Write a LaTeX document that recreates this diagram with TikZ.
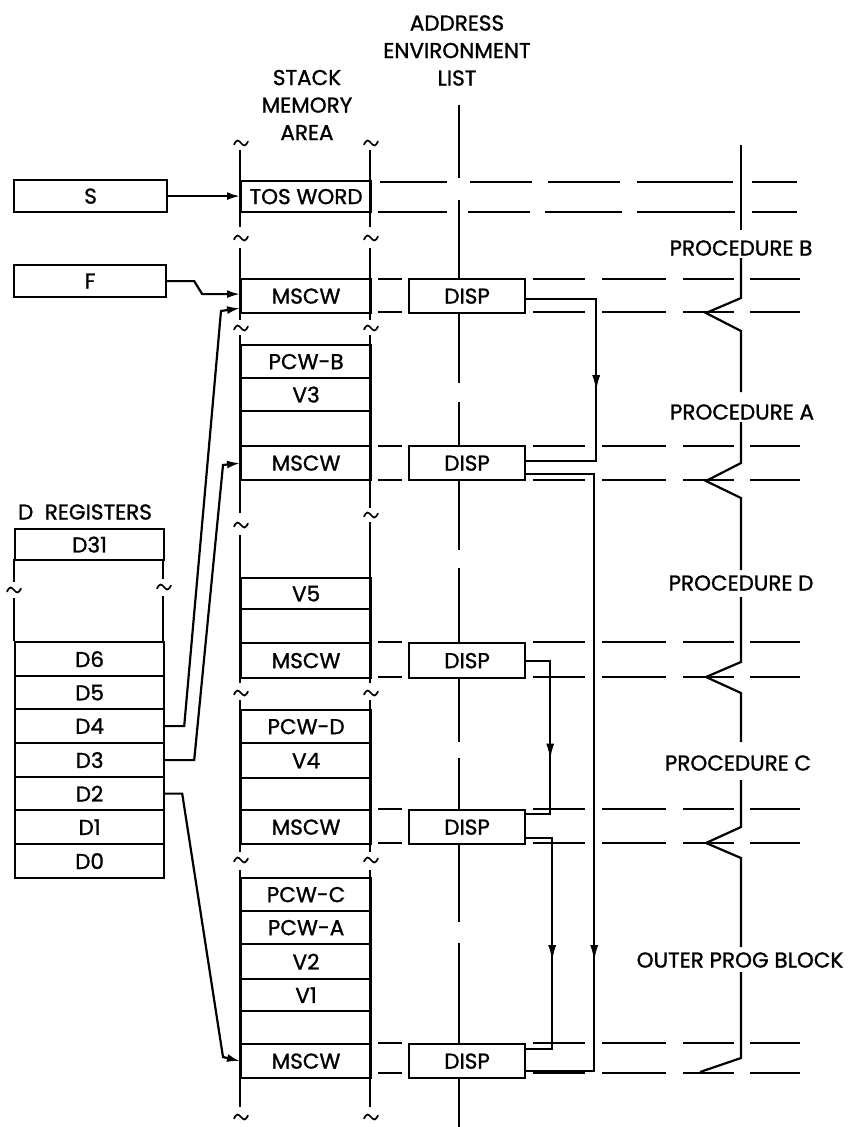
\documentclass[tikz,border=0pt]{standalone}
\usepackage{fontspec}
\setmainfont{Poppins}[FakeBold=1.2]
\usetikzlibrary{arrows.meta,decorations.markings}
\tikzset{
  tld/.pic={\draw[line width=1.7pt,line cap=round] (-7,1.5) sin (-3.5,-2.5) cos (0,0) sin (3.5,2.5) cos (7,-1.5);},
}
\newcommand\srow[4]{\node[cell, minimum height=#3] (#1) at (240,#2) {#4};}
\newcommand\drow[4]{\node[reg, minimum height=#3] (#1) at (14,#2) {#4};}
\newcommand\hpair[2]{%
  \draw[hd] (378,#1) -- (402,#1); \draw[hdd] (533,#1) -- (800,#1);
  \draw[hd] (378,#2) -- (402,#2); \draw[hdd] (533,#2) -- (800,#2);}
\begin{document}
\begin{tikzpicture}[x=1pt,y=-1pt,line width=2.2pt,
  every node/.style={font=\fontsize{21.5}{27.5}\selectfont, inner sep=0pt},
  cell/.style={draw, minimum width=130pt, anchor=north west},
  reg/.style={draw, minimum width=149pt, anchor=north west},
  disp/.style={draw, minimum width=116pt, anchor=north west},
  tipped/.style={-{Latex[length=13pt,width=8pt]}},
  midarrow/.style={postaction={decorate},decoration={markings,mark=at position #1 with {\arrow{Latex[length=16pt,width=8pt]}}}},
  hd/.style={line width=2pt},
  hdd/.style={line width=2pt, dash pattern=on 52pt off 17pt on 64pt off 17pt on 51pt off 16pt on 50pt off 50pt},
]
\useasboundingbox (0,0) rectangle (853,1127);

% headers
\node[align=center] (hstack) at (307,105) {STACK\\MEMORY\\AREA};
\node[align=center] (haddr) at (457,50.5) {ADDRESS\\ENVIRONMENT\\LIST};
\node (hdreg) at (85,512) {D~~REGISTERS};

% S and F registers
\node[draw, minimum width=153pt, minimum height=32pt, anchor=north west] (S) at (13,179) {S};
\node[draw, minimum width=152pt, minimum height=32pt, anchor=north west] (F) at (13,264) {F};

% stack rows
\srow{tos}{180}{31pt}{TOS WORD}
\srow{m1}{278}{34pt}{MSCW}
\srow{pcwb}{344}{33pt}{PCW-B}
\srow{v3}{377}{33pt}{V3}
\srow{e1}{410}{35pt}{}
\srow{m2}{445}{34pt}{MSCW}
\srow{v5}{577}{31pt}{V5}
\srow{e2}{608}{34pt}{}
\srow{m3}{642}{35pt}{MSCW}
\srow{pcwd}{709}{33pt}{PCW-D}
\srow{v4}{742}{35pt}{V4}
\srow{e3}{777}{32pt}{}
\srow{m4}{809}{34pt}{MSCW}
\srow{pcwc}{877}{33pt}{PCW-C}
\srow{pcwa}{910}{33pt}{PCW-A}
\srow{v2}{943}{35pt}{V2}
\srow{v1}{978}{32pt}{V1}
\srow{e4}{1010}{33pt}{}
\srow{m5}{1043}{34pt}{MSCW}

% stack walls
\foreach \a/\b in {150/227,248/320,335/513,535/683,700/852,870/1107} \draw (240,\a) -- (240,\b);
\foreach \a/\b in {150/227,248/320,335/508,522/683,700/852,870/1107} \draw (370,\a) -- (370,\b);
\foreach \y in {143,238,328,525,693,860,1117} \pic at (241,\y) {tld};
\foreach \y in {143,238,328,515,693,860,1117} \pic at (371,\y) {tld};

% D registers
\drow{d31}{528}{31pt}{D31}
\drow{d6}{641}{34pt}{D6}
\drow{d5}{675}{33pt}{D5}
\drow{d4}{708}{34pt}{D4}
\drow{d3}{742}{34pt}{D3}
\drow{d2}{776}{33pt}{D2}
\drow{d1}{809}{34pt}{D1}
\drow{d0}{843}{34pt}{D0}
\draw (14,559) -- (14,582); \draw (14,598) -- (14,641);
\draw (163,559) -- (163,579); \draw (163,596) -- (163,641);
\pic at (14,590) {tld};
\pic at (164,587) {tld};

% address environment list
\node[disp, minimum height=34pt] (p1) at (408,278) {DISP};
\node[disp, minimum height=34pt] (p2) at (408,445) {DISP};
\node[disp, minimum height=35pt] (p3) at (408,642) {DISP};
\node[disp, minimum height=34pt] (p4) at (408,809) {DISP};
\node[disp, minimum height=34pt] (p5) at (408,1043) {DISP};
\foreach \a/\b in {105/178,200/278,312/383,402/445,479/550,568/642,677/742,758/809,843/922,943/1043,1077/1127}
  \draw (459,\a) -- (459,\b);

% horizontal dashed boundaries
\draw[hd, dash pattern=on 67pt off 23pt on 62pt off 16pt on 72pt off 17pt on 96pt off 19pt on 45pt off 50pt] (380,182) -- (800,182);
\draw[hd, dash pattern=on 69pt off 21pt on 62pt off 15pt on 77pt off 15pt on 98pt off 17pt on 45pt off 50pt] (378,212) -- (800,212);
\hpair{279}{312}
\hpair{446}{480}
\hpair{642}{677}
\hpair{809}{843}
\hpair{1043}{1073}

% procedure braces
\draw (741,145) -- (741,230);
\draw (741,258) -- (741,298) -- (706,313) -- (741,331) -- (741,392);
\draw (741,422) -- (741,463) -- (706,481) -- (741,498) -- (741,570);
\draw (741,597) -- (741,662) -- (706,677) -- (741,693) -- (741,742);
\draw (741,780) -- (741,827) -- (706,843) -- (741,858) -- (741,947);
\draw (741,972) -- (741,1058) -- (700,1072);
\node[fill=white, inner sep=1pt] (lb) at (741,248) {PROCEDURE B};
\node[fill=white, inner sep=1pt] (la) at (742,412) {PROCEDURE A};
\node[fill=white, inner sep=1pt] (ld) at (741,583) {PROCEDURE D};
\node[fill=white, inner sep=1pt] (lc) at (738,763) {PROCEDURE C};
\node[fill=white, inner sep=1pt] (lo) at (740,960) {OUTER PROG BLOCK};

% register pointers
\draw[tipped] (S.east) -- (S.east -| tos.west);
\draw[tipped] (F.east) -- ++(27,0) -- ++(8,13) -- ([yshift=2pt]m1.west);
\draw[tipped] (d4.east) -- ++(19,0) -- (221,311) -- ([yshift=-12pt]m1.west);
\draw[tipped] (d3.east) -- ++(29,0) -- (223,465) -- (m2.west);
\draw[tipped] (d2.east) -- ++(17,0) -- (223,1057) -- (m5.west);

% static links
\draw[midarrow=162pt] ([yshift=-3pt]p1.east) -- ++(70,0) |- ([yshift=2pt]p2.east);
\draw[midarrow=555pt] ([yshift=-11pt]p2.east) -- ++(68,0) |- ([yshift=-10pt]p5.east);
\draw[midarrow=123pt] (p3.east) -- ++(24,0) |- ([yshift=13pt]p4.east);
\draw[midarrow=149pt] ([yshift=-11pt]p4.east) -- ++(26,0) |- ([yshift=12pt]p5.east);
\end{tikzpicture}
\end{document}
